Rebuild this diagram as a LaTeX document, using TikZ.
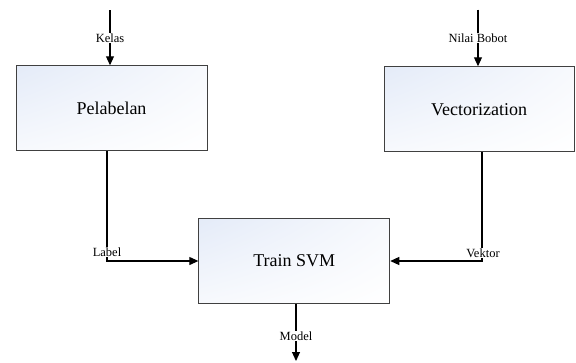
\documentclass[tikz,border=0pt]{standalone}
\usepackage{fontspec}
\setmainfont{Liberation Serif}
\usetikzlibrary{arrows.meta,shadings}
\definecolor{boxA}{RGB}{228,235,248}
\definecolor{boxB}{RGB}{247,249,253}
\definecolor{boxedge}{RGB}{64,64,64}
\begin{document}
\begin{tikzpicture}[x=1pt,y=-1pt,
  procbox/.style={draw=boxedge, line width=0.9pt, rectangle,
    minimum width=191pt, minimum height=85pt,
    font=\fontsize{18}{20}\selectfont,
    shade, upper left=boxA, upper right=boxB, lower left=boxB, lower right=white},
  flow/.style={draw, line width=1.1pt, -{Triangle[length=9pt,width=8pt]}},
  lbl/.style={fill=white, inner sep=1pt, font=\fontsize{12.5}{14}\selectfont}]
\useasboundingbox (0,0) rectangle (576,362);

\node[procbox] (pel) at (111.5,108.2) {Pelabelan};
\node[procbox, minimum width=190pt] (vec) at (479,109.2) {Vectorization};
\node[procbox] (svm) at (294.3,261) {Train SVM};

\coordinate (kin) at (110,10);
\coordinate (nin) at (478,9.5);
\coordinate (lc) at (107,261);
\coordinate (vc) at (482,261);
\coordinate (mout) at (296,361);

\draw[flow] (kin) -- (kin |- pel.north);
\draw[flow] (nin) -- (nin |- vec.north);
\draw[flow] (pel.south -| lc) -- (lc) -- (svm.west);
\draw[flow] (vec.south -| vc) -- (vc) -- (svm.east);
\draw[flow] (svm.south -| mout) -- (mout);

\node[lbl] (kl) at (110,38) {Kelas};
\node[lbl] (nl) at (478,38) {Nilai Bobot};
\node[lbl] (ll) at (107,252) {Label};
\node[lbl] (vl) at (483,253) {Vektor};
\node[lbl] (ml) at (296,336) {Model};
\end{tikzpicture}
\end{document}
